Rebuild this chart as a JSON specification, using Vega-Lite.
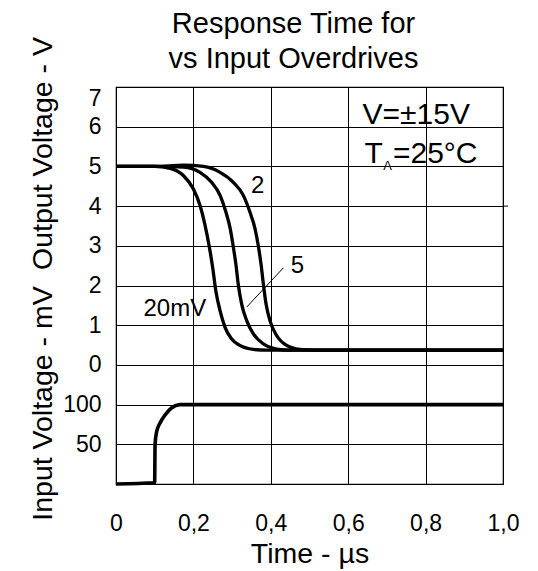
{
  "$schema": "https://vega.github.io/schema/vega-lite/v6.json",
  "width": 387,
  "height": 397,
  "autosize": {"type": "none"},
  "padding": {"left": 116, "top": 87, "right": 35, "bottom": 87},
  "background": "white",
  "title": {
    "text": ["Response Time for", "vs Input Overdrives"],
    "font": "Liberation Sans",
    "fontSize": 29,
    "fontWeight": "normal",
    "color": "black",
    "lineHeight": 35,
    "anchor": "middle",
    "frame": "group",
    "dx": -16,
    "offset": -66,
    "baseline": "bottom"
  },
  "config": {
    "font": "Liberation Sans",
    "view": {"stroke": "black", "strokeWidth": 1.2},
    "axis": {
      "labelFont": "Liberation Sans",
      "titleFont": "Liberation Sans",
      "labelColor": "black",
      "titleColor": "black",
      "titleFontWeight": "normal",
      "domain": false,
      "ticks": false,
      "gridColor": "black",
      "gridOpacity": 1,
      "gridWidth": 1,
      "labelOverlap": false
    }
  },
  "datasets": {
    "output": [
      {"s": "20mV", "t": 0, "v": 5},
      {"s": "20mV", "t": 0.1, "v": 5},
      {"s": "20mV", "t": 0.14, "v": 4.95},
      {"s": "20mV", "t": 0.174, "v": 4.77},
      {"s": "20mV", "t": 0.2, "v": 4.43},
      {"s": "20mV", "t": 0.217, "v": 4.02},
      {"s": "20mV", "t": 0.23, "v": 3.52},
      {"s": "20mV", "t": 0.241, "v": 2.98},
      {"s": "20mV", "t": 0.25, "v": 2.44},
      {"s": "20mV", "t": 0.258, "v": 1.86},
      {"s": "20mV", "t": 0.269, "v": 1.36},
      {"s": "20mV", "t": 0.282, "v": 0.94},
      {"s": "20mV", "t": 0.299, "v": 0.65},
      {"s": "20mV", "t": 0.32, "v": 0.49},
      {"s": "20mV", "t": 0.355, "v": 0.39},
      {"s": "20mV", "t": 0.39, "v": 0.37},
      {"s": "20mV", "t": 1, "v": 0.37},
      {"s": "5mV", "t": 0, "v": 5},
      {"s": "5mV", "t": 0.1, "v": 5},
      {"s": "5mV", "t": 0.174, "v": 4.98},
      {"s": "5mV", "t": 0.217, "v": 4.85},
      {"s": "5mV", "t": 0.247, "v": 4.6},
      {"s": "5mV", "t": 0.269, "v": 4.27},
      {"s": "5mV", "t": 0.284, "v": 3.85},
      {"s": "5mV", "t": 0.295, "v": 3.44},
      {"s": "5mV", "t": 0.303, "v": 2.98},
      {"s": "5mV", "t": 0.31, "v": 2.52},
      {"s": "5mV", "t": 0.316, "v": 2.02},
      {"s": "5mV", "t": 0.325, "v": 1.52},
      {"s": "5mV", "t": 0.338, "v": 1.11},
      {"s": "5mV", "t": 0.355, "v": 0.78},
      {"s": "5mV", "t": 0.381, "v": 0.53},
      {"s": "5mV", "t": 0.415, "v": 0.4},
      {"s": "5mV", "t": 0.45, "v": 0.37},
      {"s": "5mV", "t": 1, "v": 0.37},
      {"s": "2mV", "t": 0, "v": 5},
      {"s": "2mV", "t": 0.1, "v": 5},
      {"s": "2mV", "t": 0.174, "v": 5.03},
      {"s": "2mV", "t": 0.226, "v": 5.0},
      {"s": "2mV", "t": 0.269, "v": 4.85},
      {"s": "2mV", "t": 0.303, "v": 4.6},
      {"s": "2mV", "t": 0.329, "v": 4.27},
      {"s": "2mV", "t": 0.346, "v": 3.85},
      {"s": "2mV", "t": 0.359, "v": 3.44},
      {"s": "2mV", "t": 0.368, "v": 2.98},
      {"s": "2mV", "t": 0.375, "v": 2.52},
      {"s": "2mV", "t": 0.381, "v": 2.02},
      {"s": "2mV", "t": 0.388, "v": 1.52},
      {"s": "2mV", "t": 0.398, "v": 1.11},
      {"s": "2mV", "t": 0.415, "v": 0.74},
      {"s": "2mV", "t": 0.441, "v": 0.49},
      {"s": "2mV", "t": 0.475, "v": 0.39},
      {"s": "2mV", "t": 0.51, "v": 0.37},
      {"s": "2mV", "t": 1, "v": 0.37}
    ],
    "input": [
      {"t": 0, "mv": 0},
      {"t": 0.099, "mv": 1.5},
      {"t": 0.1, "mv": 3},
      {"t": 0.1005, "mv": 30},
      {"t": 0.101, "mv": 50},
      {"t": 0.105, "mv": 66},
      {"t": 0.114, "mv": 77},
      {"t": 0.127, "mv": 87},
      {"t": 0.144, "mv": 96},
      {"t": 0.165, "mv": 100},
      {"t": 1, "mv": 100}
    ]
  },
  "layer": [
    {
      "data": {"name": "output"},
      "mark": {"type": "line", "interpolate": "monotone", "color": "black", "strokeWidth": 3.3},
      "encoding": {
        "x": {
          "field": "t",
          "type": "quantitative",
          "scale": {"domain": [0, 1], "nice": false, "zero": false},
          "axis": {
            "values": [0, 0.1, 0.2, 0.3, 0.4, 0.5, 0.6, 0.7, 0.8, 0.9, 1],
            "grid": true,
            "labelExpr": "datum.value == 0 ? '0' : (round(datum.value * 10) % 2 == 0 ? replace(format(datum.value, '.1f'), '.', ',') : '')",
            "labelFontSize": 23,
            "labelPadding": 28,
            "labelFlush": false,
            "title": "Time - µs",
            "titleFontSize": 28.5,
            "titlePadding": 4
          }
        },
        "y": {
          "field": "v",
          "type": "quantitative",
          "scale": {"domain": [-3, 7], "nice": false, "zero": false},
          "axis": {
            "orient": "left",
            "values": [-3, -2, -1, 0, 1, 2, 3, 4, 5, 6, 7],
            "grid": true,
            "labelExpr": "datum.value >= 0 ? datum.label : ''",
            "labelFontSize": 23,
            "labelPadding": 15,
            "labelFlush": true,
            "title": "Output Voltage - V",
            "titleFontSize": 28.5,
            "titleAngle": -90,
            "titleX": -65,
            "titleY": 66,
            "titleAlign": "center",
            "titleBaseline": "alphabetic"
          }
        },
        "detail": {"field": "s"}
      }
    },
    {
      "data": {"name": "input"},
      "mark": {"type": "line", "interpolate": "monotone", "color": "black", "strokeWidth": 3.6},
      "encoding": {
        "x": {
          "field": "t",
          "type": "quantitative",
          "title": "Time - µs",
          "scale": {"domain": [0, 1], "nice": false, "zero": false}
        },
        "y": {
          "field": "mv",
          "type": "quantitative",
          "scale": {"domain": [0, 500], "nice": false, "zero": false},
          "axis": {
            "orient": "left",
            "values": [50, 100],
            "grid": false,
            "labelFontSize": 23,
            "labelPadding": 15,
            "title": "Input Voltage - mV",
            "titleFontSize": 28.5,
            "titleAngle": -90,
            "titleX": -65,
            "titleY": 316,
            "titleAlign": "center",
            "titleBaseline": "alphabetic"
          }
        }
      }
    },
    {
      "data": {"values": [{}]},
      "mark": {"type": "text", "fontSize": 24, "align": "center", "baseline": "alphabetic", "color": "black"},
      "encoding": {
        "x": {"datum": 0.366, "type": "quantitative"},
        "y": {"datum": 4.34, "type": "quantitative", "scale": {"domain": [-3, 7], "nice": false, "zero": false}, "axis": null},
        "text": {"value": "2"}
      }
    },
    {
      "data": {"values": [{}]},
      "mark": {"type": "text", "fontSize": 24, "align": "center", "baseline": "alphabetic", "color": "black"},
      "encoding": {
        "x": {"datum": 0.469, "type": "quantitative"},
        "y": {"datum": 2.31, "type": "quantitative", "scale": {"domain": [-3, 7], "nice": false, "zero": false}, "axis": null},
        "text": {"value": "5"}
      }
    },
    {
      "data": {"values": [{}]},
      "mark": {"type": "text", "fontSize": 24, "align": "center", "baseline": "alphabetic", "color": "black"},
      "encoding": {
        "x": {"datum": 0.152, "type": "quantitative"},
        "y": {"datum": 1.24, "type": "quantitative", "scale": {"domain": [-3, 7], "nice": false, "zero": false}, "axis": null},
        "text": {"value": "20mV"}
      }
    },
    {
      "data": {"values": [{}]},
      "mark": {"type": "text", "fontSize": 30, "align": "left", "baseline": "alphabetic", "color": "black"},
      "encoding": {
        "x": {"datum": 0.637, "type": "quantitative"},
        "y": {"datum": 6.07, "type": "quantitative", "scale": {"domain": [-3, 7], "nice": false, "zero": false}, "axis": null},
        "text": {"value": "V=±15V"}
      }
    },
    {
      "data": {"values": [{}]},
      "mark": {"type": "text", "fontSize": 30, "align": "left", "baseline": "alphabetic", "color": "black"},
      "encoding": {
        "x": {"datum": 0.642, "type": "quantitative"},
        "y": {"datum": 5.08, "type": "quantitative", "scale": {"domain": [-3, 7], "nice": false, "zero": false}, "axis": null},
        "text": {"value": "T"}
      }
    },
    {
      "data": {"values": [{}]},
      "mark": {"type": "text", "fontSize": 13, "align": "center", "baseline": "alphabetic", "color": "black"},
      "encoding": {
        "x": {"datum": 0.7016, "type": "quantitative"},
        "y": {"datum": 4.9, "type": "quantitative", "scale": {"domain": [-3, 7], "nice": false, "zero": false}, "axis": null},
        "text": {"value": "A"}
      }
    },
    {
      "data": {"values": [{}]},
      "mark": {"type": "text", "fontSize": 30, "align": "left", "baseline": "alphabetic", "color": "black"},
      "encoding": {
        "x": {"datum": 0.7157, "type": "quantitative"},
        "y": {"datum": 5.08, "type": "quantitative", "scale": {"domain": [-3, 7], "nice": false, "zero": false}, "axis": null},
        "text": {"value": "=25°C"}
      }
    },
    {
      "data": {"values": [{}]},
      "mark": {"type": "rule", "color": "black", "strokeWidth": 1},
      "encoding": {
        "x": {"datum": 0.432, "type": "quantitative"},
        "x2": {"datum": 0.338},
        "y": {"datum": 2.44, "type": "quantitative", "scale": {"domain": [-3, 7], "nice": false, "zero": false}, "axis": null},
        "y2": {"datum": 1.46}
      }
    },
    {
      "data": {"values": [{}]},
      "mark": {"type": "rule", "color": "black", "strokeWidth": 1},
      "encoding": {
        "x": {"datum": 1, "type": "quantitative"},
        "x2": {"datum": 1.013},
        "y": {"datum": 4, "type": "quantitative", "scale": {"domain": [-3, 7], "nice": false, "zero": false}, "axis": null}
      }
    }
  ],
  "resolve": {"scale": {"y": "independent"}}
}
